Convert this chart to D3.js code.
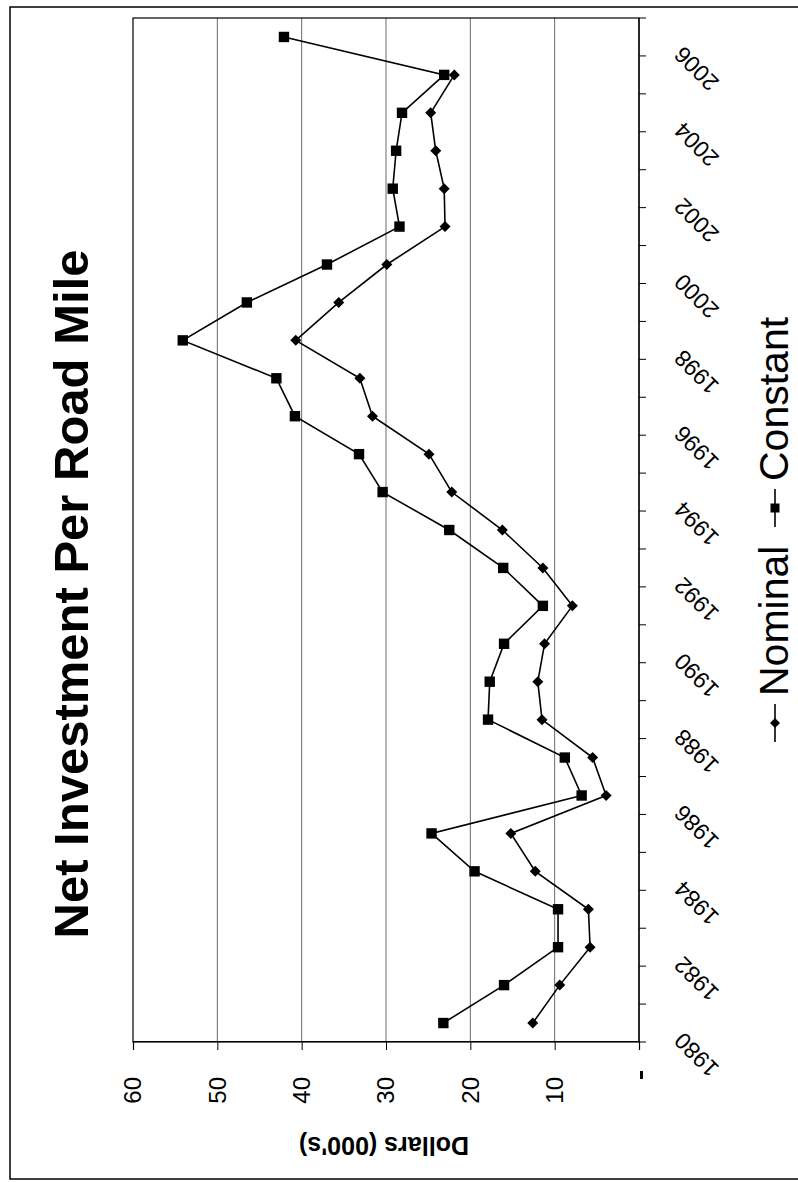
<!DOCTYPE html>
<html>
<head>
<meta charset="utf-8">
<script src="https://cdn.jsdelivr.net/npm/d3@7"></script>
<style>
  html, body { margin: 0; padding: 0; background: #fff; }
  svg { display: block; }
  text { font-family: "Liberation Sans", Arial, Helvetica, sans-serif; fill: #000; }
</style>
</head>
<body>
<svg id="chart" width="798" height="1182"></svg>
<script>
// Net investment per road mile, dollars (thousands), 1980-2006
const years = d3.range(1980, 2007);
const nominal = [12.6, 9.4, 5.8, 6.0, 12.3, 15.2, 3.9, 5.5, 11.5, 12.0, 11.2, 7.9, 11.4,
                 16.2, 22.2, 24.9, 31.6, 33.1, 40.7, 35.6, 29.9, 23.0, 23.1, 24.1, 24.7, 21.9, null];
const constant = [23.2, 16.0, 9.6, 9.6, 19.5, 24.6, 6.8, 8.8, 17.9, 17.7, 16.0, 11.4, 16.1,
                  22.5, 30.4, 33.2, 40.8, 43.0, 54.1, 46.5, 37.0, 28.4, 29.2, 28.8, 28.1, 23.1, 42.1];
const valueTicks = [0, 10, 20, 30, 40, 50, 60];
const yearLabels = years.filter(y => y % 2 === 0);
const seriesNames = ["Nominal", "Constant"];

const svg = d3.select("#chart");

// page frame
svg.append("rect")
  .attr("x", 10).attr("y", 7).attr("width", 795).attr("height", 1172)
  .attr("fill", "none").attr("stroke", "#000").attr("stroke-width", 1.5);

// The chart is laid out landscape (1182 x 798) and turned a quarter turn counter-clockwise.
const W = 1182;
const g = svg.append("g").attr("transform", `translate(0,${W}) rotate(-90)`);

const plot = { left: 140, right: 1164, top: 133, bottom: 639 };

const x = d3.scaleBand().domain(years).range([plot.left, plot.right]).paddingInner(0).paddingOuter(0);
const y = d3.scaleLinear().domain([0, 60]).range([plot.bottom, plot.top]);
const cx = d => x(d) + x.bandwidth() / 2;

// gridlines
g.append("g").selectAll("line")
  .data(valueTicks.filter(v => v > 0 && v < 60))
  .join("line")
  .attr("x1", plot.left).attr("x2", plot.right)
  .attr("y1", d => y(d)).attr("y2", d => y(d))
  .attr("stroke", "#6a6a6a").attr("stroke-width", 1);

// plot border
g.append("rect")
  .attr("x", plot.left).attr("y", plot.top)
  .attr("width", plot.right - plot.left).attr("height", plot.bottom - plot.top)
  .attr("fill", "none").attr("stroke", "#000").attr("stroke-width", 1.2);

// value axis
const yAxis = d3.axisLeft(y).tickValues(valueTicks).tickSize(8).tickPadding(27)
  .tickFormat(d => d === 0 ? "" : d);
const yAx = g.append("g").attr("transform", `translate(${plot.left},0)`).call(yAxis);
yAx.select(".domain").attr("stroke", "#000").attr("stroke-width", 1.2);
yAx.selectAll(".tick line").attr("stroke", "#000");
yAx.selectAll(".tick text")
  .style("font-family", '"Liberation Sans", Arial, sans-serif')
  .style("font-size", "24px").attr("fill", "#000");
// faint remnant of the zero label
g.append("rect")
  .attr("x", plot.left - 37).attr("y", y(0) + 1)
  .attr("width", 8).attr("height", 3).attr("fill", "#000");

// category axis with ticks between years
const cat = g.append("g");
cat.append("line")
  .attr("x1", plot.left).attr("x2", plot.right)
  .attr("y1", plot.bottom).attr("y2", plot.bottom)
  .attr("stroke", "#000").attr("stroke-width", 1.2);
cat.selectAll("line.tk")
  .data(years.concat([null]))
  .join("line").attr("class", "tk")
  .attr("x1", (d, i) => plot.left + i * x.step())
  .attr("x2", (d, i) => plot.left + i * x.step())
  .attr("y1", plot.bottom).attr("y2", plot.bottom + 7)
  .attr("stroke", "#000").attr("stroke-width", 1);
cat.selectAll("text")
  .data(yearLabels)
  .join("text")
  .attr("text-anchor", "end")
  .attr("transform", d => `translate(${cx(d) - 8},${plot.bottom + 45}) rotate(-45)`)
  .style("font-size", "23px")
  .text(d => d);

// series lines and markers
const line = d3.line()
  .defined(d => d.v != null)
  .x(d => cx(d.year)).y(d => y(d.v));

const nomData = years.map((yr, i) => ({ year: yr, v: nominal[i] }));
const conData = years.map((yr, i) => ({ year: yr, v: constant[i] }));

const diamond = s => `M0,${-s}L${s},0L0,${s}L${-s},0Z`;
const square = s => `M${-s},${-s}H${s}V${s}H${-s}Z`;

g.append("path").datum(conData).attr("d", line)
  .attr("fill", "none").attr("stroke", "#000").attr("stroke-width", 1.6);
g.append("path").datum(nomData).attr("d", line)
  .attr("fill", "none").attr("stroke", "#000").attr("stroke-width", 1.6);

g.append("g").selectAll("path")
  .data(conData.filter(d => d.v != null))
  .join("path")
  .attr("transform", d => `translate(${cx(d.year)},${y(d.v)})`)
  .attr("d", square(5.2)).attr("fill", "#000");
g.append("g").selectAll("path")
  .data(nomData.filter(d => d.v != null))
  .join("path")
  .attr("transform", d => `translate(${cx(d.year)},${y(d.v)})`)
  .attr("d", diamond(5.5)).attr("fill", "#000");

// title
g.append("text")
  .attr("x", 588).attr("y", 88)
  .attr("text-anchor", "middle")
  .style("font-size", "49px").style("font-weight", "bold")
  .text("Net Investment Per Road Mile");

// value axis title
g.append("text")
  .attr("transform", `translate(45,384) rotate(-90)`)
  .attr("text-anchor", "middle")
  .style("font-size", "25px").style("font-weight", "bold")
  .text("Dollars (000's)");

// legend
const legend = g.append("g");
const legY = 775, legBase = 788;
const items = [
  { name: seriesNames[0], x0: 440, shape: diamond(5) },
  { name: seriesNames[1], x0: 655, shape: square(4.5) }
];
items.forEach(it => {
  legend.append("line")
    .attr("x1", it.x0).attr("x2", it.x0 + 38)
    .attr("y1", legY).attr("y2", legY)
    .attr("stroke", "#000").attr("stroke-width", 1.6);
  legend.append("path")
    .attr("transform", `translate(${it.x0 + 19},${legY})`)
    .attr("d", it.shape).attr("fill", "#000");
  legend.append("text")
    .attr("x", it.x0 + 46).attr("y", legBase)
    .style("font-size", "41px")
    .text(it.name);
});
</script>
</body>
</html>
